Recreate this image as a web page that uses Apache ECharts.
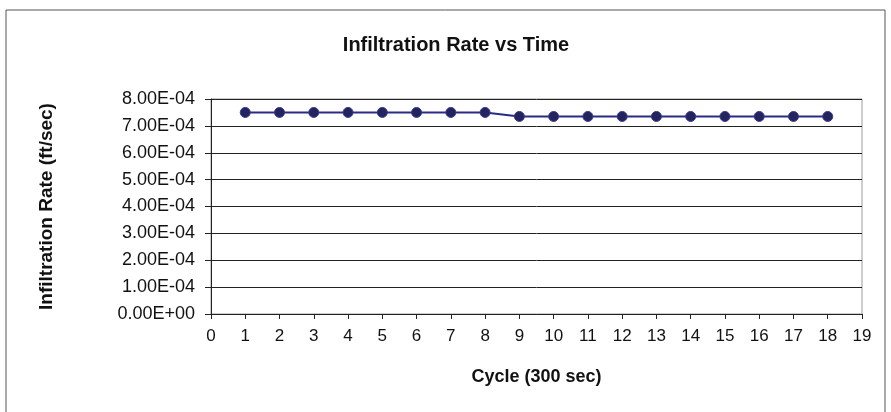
<!DOCTYPE html>
<html><head><meta charset="utf-8">
<script src="https://cdn.jsdelivr.net/npm/echarts@6/dist/echarts.min.js"></script>
<style>html,body{margin:0;padding:0;background:#fff}#c{width:891px;height:412px}</style>
</head><body><div id="c"></div>
<script>
const cycles = [1,2,3,4,5,6,7,8,9,10,11,12,13,14,15,16,17,18];
const rates = [7.5e-4,7.5e-4,7.5e-4,7.5e-4,7.5e-4,7.5e-4,7.5e-4,7.5e-4,7.35e-4,7.35e-4,7.35e-4,7.35e-4,7.35e-4,7.35e-4,7.35e-4,7.35e-4,7.35e-4,7.35e-4];
const yTickLabels = ['0.00E+00','1.00E-04','2.00E-04','3.00E-04','4.00E-04','5.00E-04','6.00E-04','7.00E-04','8.00E-04'];

const chart = echarts.init(document.getElementById('c'));
chart.setOption({
  animation:false,
  backgroundColor:'#fff',
  graphic:[{type:'rect',shape:{x:6,y:10,width:879,height:410},style:{fill:'none',stroke:'#555',lineWidth:1},silent:true}],
  title:{text:'Infiltration Rate vs Time',left:451,top:30,textAlign:'center',
    textStyle:{fontFamily:'Liberation Sans',fontSize:20,fontWeight:'bold',color:'#111'}},
  grid:{left:211,right:29,top:99,bottom:98,show:true,borderColor:'#999',borderWidth:1},
  xAxis:{type:'value',min:0,max:19,interval:1,
    name:'Cycle (300 sec)',nameLocation:'middle',nameGap:54,
    nameTextStyle:{fontFamily:'Liberation Sans',fontSize:18,fontWeight:'bold',color:'#111'},
    axisLine:{lineStyle:{color:'#222'}},
    axisTick:{show:true,length:5,lineStyle:{color:'#222'}},
    axisLabel:{fontFamily:'Liberation Sans',fontSize:17,color:'#111',margin:14},
    splitLine:{show:false}},
  yAxis:{type:'value',min:0,max:8e-4,interval:1e-4,
    name:'Infiltration Rate (ft/sec)',nameLocation:'middle',nameGap:155,
    nameTextStyle:{fontFamily:'Liberation Sans',fontSize:19,fontWeight:'bold',color:'#111'},
    axisLine:{show:true,lineStyle:{color:'#222'}},
    axisTick:{show:true,length:6,lineStyle:{color:'#222'}},
    axisLabel:{fontFamily:'Liberation Sans',fontSize:18,color:'#111',margin:16,
      formatter:function(v){return yTickLabels[Math.round(v/1e-4)];}},
    splitLine:{show:true,lineStyle:{color:'#222',width:1}}},
  series:[{type:'line',data:cycles.map((c,i)=>[c,rates[i]]),
    symbol:'circle',symbolSize:10,
    lineStyle:{color:'#2b2b86',width:2},
    itemStyle:{color:'#23235e',borderColor:'#3a3a90',borderWidth:1}}]
});
</script></body></html>
